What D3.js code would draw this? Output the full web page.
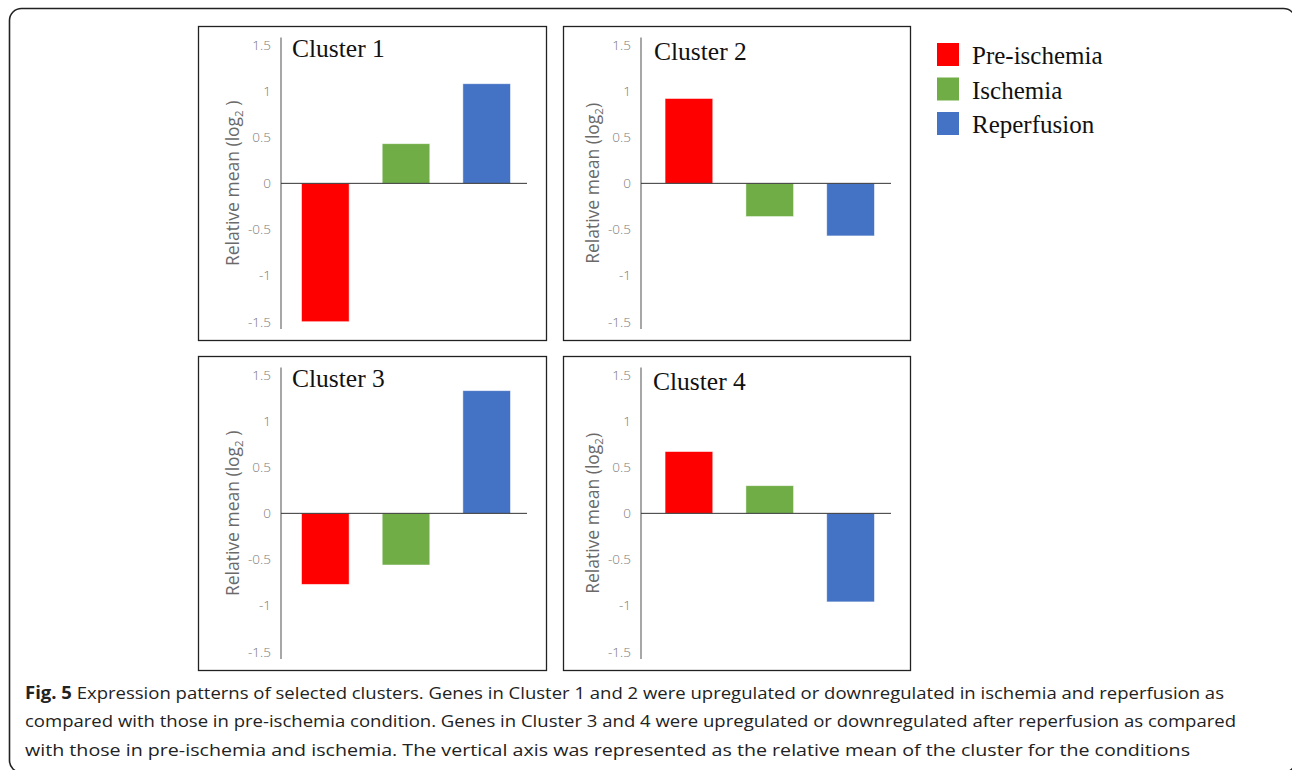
<!DOCTYPE html>
<html>
<head>
<meta charset="utf-8">
<script src="https://cdn.jsdelivr.net/npm/d3@7"></script>
<style>
  body { margin: 0; background: #fff; }
  svg { display: block; }
</style>
</head>
<body>
<script>
// data
var conditions = ["Pre-ischemia", "Ischemia", "Reperfusion"];
var clusterNames = ["Cluster 1", "Cluster 2", "Cluster 3", "Cluster 4"];
var cluster1 = [-1.5, 0.43, 1.08];
var cluster2 = [0.92, -0.36, -0.57];
var cluster3 = [-0.77, -0.56, 1.33];
var cluster4 = [0.67, 0.30, -0.96];
var tickValues = [1.5, 1, 0.5, 0, -0.5, -1, -1.5];
var captionLines = [
    "Expression patterns of selected clusters. Genes in Cluster 1 and 2 were upregulated or downregulated in ischemia and reperfusion as",
    "compared with those in pre-ischemia condition. Genes in Cluster 3 and 4 were upregulated or downregulated after reperfusion as compared",
    "with those in pre-ischemia and ischemia. The vertical axis was represented as the relative mean of the cluster for the conditions"
];

var colors = d3.scaleOrdinal().domain(conditions).range(["#ff0000", "#70ad47", "#4472c4"]);

var width = 1292, height = 770;
var svg = d3.select("body").append("svg").attr("width", width).attr("height", height);

// outer frame
svg.append("rect").attr("x", 9.5).attr("y", 8.5).attr("width", 1286).attr("height", 764)
    .attr("rx", 12).attr("fill", "none").attr("stroke", "#222").attr("stroke-width", 1.6);

// panel boxes
var panels = [
    {x: 198, y: 26, w: 348, h: 314, axis: 83, title: 94},
    {x: 563, y: 26, w: 347, h: 314, axis: 78, title: 91},
    {x: 198, y: 356, w: 348, h: 314, axis: 83, title: 94},
    {x: 563, y: 356, w: 347, h: 314, axis: 78, title: 90}
];
var series = [cluster1, cluster2, cluster3, cluster4];

panels.forEach(function (p, i) {
    var g = svg.append("g").attr("transform", "translate(" + p.x + "," + p.y + ")");
    g.append("rect").attr("x", 0.5).attr("y", 0.5).attr("width", p.w).attr("height", p.h)
        .attr("fill", "none").attr("stroke", "#222").attr("stroke-width", 1.3);

    var y = d3.scaleLinear().domain([-1.5, 1.5]).range([295.7, 19]);
    var x = d3.scaleBand().domain(conditions)
        .range([p.axis + (i % 2 ? 7.5 : 4), p.w - 19])
        .paddingInner(0.41).paddingOuter(0.205);

    // bars
    g.selectAll("rect.bar").data(series[i]).enter().append("rect")
        .attr("class", "bar")
        .attr("x", function (d, j) { return x(conditions[j]); })
        .attr("width", x.bandwidth())
        .attr("y", function (d) { return y(Math.max(0, d)); })
        .attr("height", function (d) { return Math.abs(y(d) - y(0)); })
        .attr("fill", function (d, j) { return colors(conditions[j]); })
        .attr("stroke", "#fff").attr("stroke-opacity", 0.6).attr("stroke-width", 0.8);

    // y axis
    var axis = g.append("g").attr("transform", "translate(" + p.axis + ",0)")
        .call(d3.axisLeft(y).tickValues(tickValues).tickSize(0).tickPadding(10)
            .tickFormat(function (d) { return String(d); }));
    axis.select(".domain").remove();
    axis.selectAll("text").attr("fill", "#7a7a7a").attr("font-size", 13.5)
        .attr("font-family", "'Open Sans', sans-serif").attr("font-weight", 300);
    axis.append("line").attr("y1", y(1.58)).attr("y2", y(-1.58))
        .attr("stroke", "#8a8a8a").attr("stroke-width", 1.5);

    // zero line
    g.append("line").attr("x1", p.axis).attr("x2", p.w - 19)
        .attr("y1", y(0)).attr("y2", y(0)).attr("stroke", "#333").attr("stroke-width", 1);

    // y title
    var t = g.append("text")
        .attr("transform", "translate(" + (p.axis - 48) + "," + y(0) + ") rotate(-90)")
        .attr("text-anchor", "middle").attr("dy", "0.35em")
        .attr("font-family", "'Open Sans', sans-serif").attr("font-size", 17.5)
        .attr("fill", "#6a6a6a");
    t.append("tspan").text("Relative mean (log");
    t.append("tspan").attr("font-size", 11.5).attr("dy", 4).text("2");
    t.append("tspan").attr("dy", -4).text(i % 2 ? ")" : " )");

    // cluster title
    g.append("text").attr("x", p.title).attr("y", (i % 2 ? 34 : 31))
        .attr("font-family", "'Liberation Serif', 'Times New Roman', serif")
        .attr("font-size", 25.5).attr("fill", "#111").text(clusterNames[i]);
});

// legend
var legend = svg.append("g").attr("transform", "translate(937,43)");
legend.selectAll("g").data(conditions).enter().append("g")
    .attr("transform", function (d, j) { return "translate(0," + (j * 34.5) + ")"; })
    .each(function (d) {
        var s = d3.select(this);
        s.append("rect").attr("width", 22).attr("height", 23).attr("fill", colors(d));
        s.append("text").attr("x", 35).attr("y", 21)
            .attr("font-family", "'Liberation Serif', 'Times New Roman', serif")
            .attr("font-size", 25).attr("fill", "#111").text(d);
    });

// caption
var lineEnds = [1224, 1236, 1190];
var cap = svg.append("g").attr("font-family", "'Open Sans', sans-serif").attr("font-size", 17).attr("fill", "#222");
captionLines.forEach(function (line, k) {
    var t = cap.append("text").attr("x", 25).attr("y", 699 + k * 28.3)
        .attr("textLength", lineEnds[k] - 25).attr("lengthAdjust", "spacingAndGlyphs");
    if (k === 0) {
        t.append("tspan").attr("font-weight", "bold").text("Fig. 5");
        t.append("tspan").text(" " + line);
    } else {
        t.text(line);
    }
});
</script>
</body>
</html>
